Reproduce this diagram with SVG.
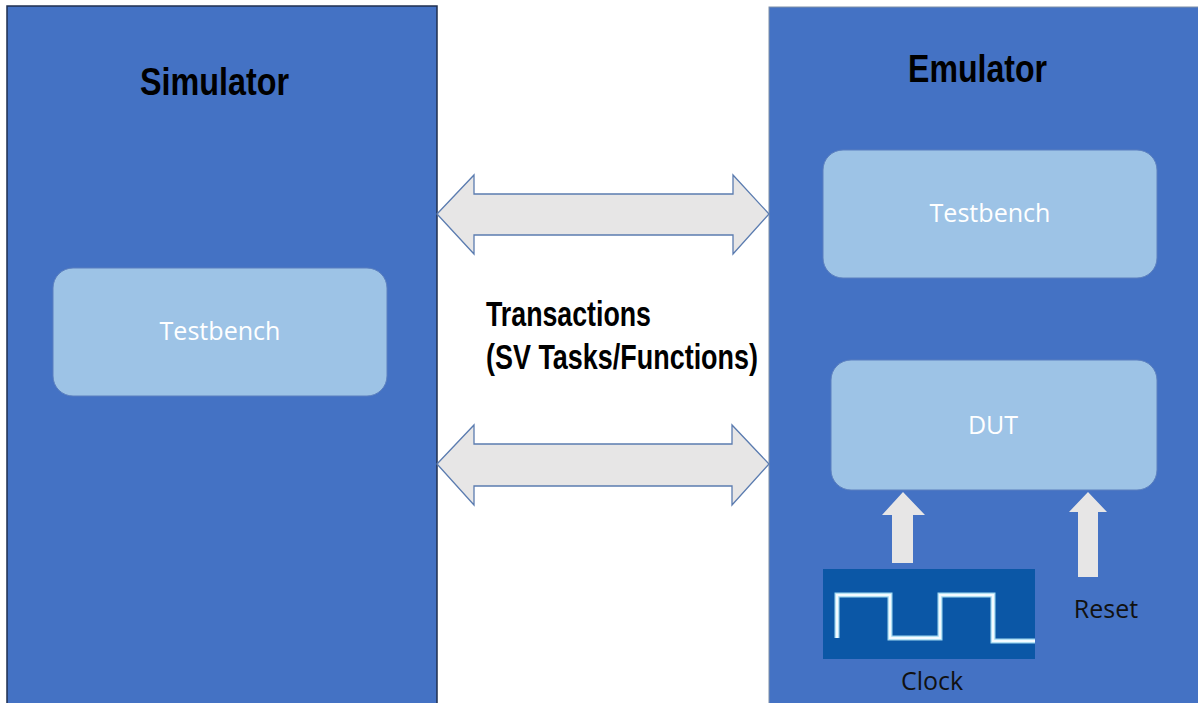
<svg xmlns="http://www.w3.org/2000/svg" width="1198" height="703" viewBox="0 0 1198 703">
<style>
.panel{fill:#4472C4}
.box{fill:#9DC3E6;stroke:#5B7FBF;stroke-width:1}
.title{font-family:"Liberation Sans",Arial,sans-serif;font-weight:bold;font-size:38px;fill:#000}
.lbl{font-family:"Open Sans","Liberation Sans",sans-serif;font-size:25px;fill:#fff;text-anchor:middle}
.dark{fill:#111}
.conn{fill:#E7E6E6;stroke:#5B7CB0;stroke-width:1.3}
.up{fill:#E7E6E6}
.tr{font-family:"Liberation Sans",Arial,sans-serif;font-weight:bold;font-size:35px;fill:#000}
</style>
<rect width="1198" height="703" fill="#fff"/>
<g id="simulator">
<rect class="panel" x="7" y="6" width="430" height="700" stroke="#1F2F4F" stroke-width="1.5"/>
<text class="title" x="140" y="95" textLength="149" lengthAdjust="spacingAndGlyphs">Simulator</text>
</g>
<g id="sim-testbench">
<rect class="box" x="53" y="268" width="334" height="128" rx="20"/>
<text class="lbl" x="220" y="340" textLength="121" lengthAdjust="spacingAndGlyphs">Testbench</text>
</g>
<g id="emulator">
<rect class="panel" x="769" y="7" width="432" height="700" stroke="#7F8FA8" stroke-width="1"/>
<text class="title" x="908" y="82" textLength="139" lengthAdjust="spacingAndGlyphs">Emulator</text>
</g>
<g id="emu-testbench">
<rect class="box" x="823" y="150" width="334" height="128" rx="20"/>
<text class="lbl" x="990" y="222" textLength="121" lengthAdjust="spacingAndGlyphs">Testbench</text>
</g>
<g id="dut">
<rect class="box" x="831" y="360" width="326" height="130" rx="20"/>
<text class="lbl" x="993" y="434">DUT</text>
</g>
<g id="clock">
<rect x="823" y="569" width="212" height="90" fill="#0B57A6"/>
<polyline points="837,638 837,595 890,595 890,638 940,638 940,595 993,595 993,641 1035,641" fill="none" stroke="#9FD8F0" stroke-width="5"/>
<polyline points="837,638 837,595 890,595 890,638 940,638 940,595 993,595 993,641 1035,641" fill="none" stroke="#F4FBFF" stroke-width="2.5"/>
<text class="lbl dark" x="932" y="690">Clock</text>
</g>
<g id="reset">
<text class="lbl dark" x="1106" y="618">Reset</text>
</g>
<g id="transactions">
<text class="tr" x="486" y="326" textLength="165" lengthAdjust="spacingAndGlyphs">Transactions</text>
<text class="tr" x="486" y="369" textLength="272" lengthAdjust="spacingAndGlyphs">(SV Tasks/Functions)</text>
</g>
<g id="connectors">
<polygon class="conn" points="437,214 474,175 474,194 733,194 733,175 769,214 733,254 733,235 474,235 474,254"/>
<polygon class="conn" points="437,464 474,425 474,444 732,444 732,425 769,464 732,505 732,486 474,486 474,505"/>
<polygon class="up" points="903,492 925,515 913,515 913,563 892,563 892,515 882,515"/>
<polygon class="up" points="1088,492 1107,512 1098,512 1098,577 1078,577 1078,512 1069,512"/>
</g>
</svg>
